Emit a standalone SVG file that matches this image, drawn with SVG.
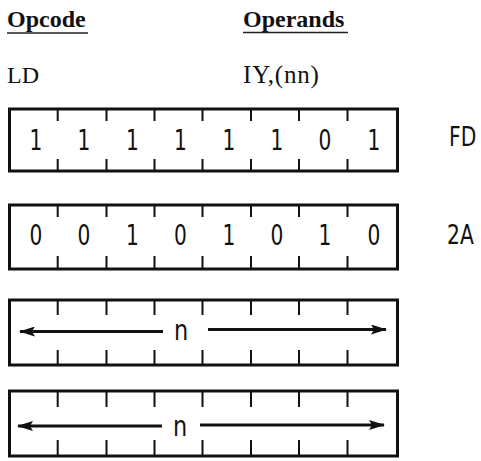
<svg xmlns="http://www.w3.org/2000/svg" width="481" height="461" viewBox="0 0 481 461">
<style>
.hdr{font-family:"Liberation Serif","Times New Roman",serif;font-size:24px;font-weight:bold;fill:#111}
.txt{font-family:"Liberation Serif","Times New Roman",serif;font-size:24px;fill:#111}
.ul{stroke:#222;stroke-width:1.6}
.box{fill:#fff;stroke:#111;stroke-width:3}
.tick{stroke:#111;stroke-width:2}
.dig{font-family:"DejaVu Sans","Liberation Sans",sans-serif;font-size:28px;fill:#111;text-anchor:middle}
.hex{font-family:"DejaVu Sans","Liberation Sans",sans-serif;font-size:26px;fill:#111}
.arr{stroke:#111;stroke-width:3;fill:none}
</style>
<defs>
<marker id="ah" viewBox="0 0 16 10" refX="15" refY="5" markerWidth="16" markerHeight="10" markerUnits="userSpaceOnUse" orient="auto-start-reverse">
<path d="M0,0 L16,5 L0,10 L3,5 Z" fill="#111"/>
</marker>
</defs>

<g id="headers">
<text class="hdr" x="7" y="27">Opcode</text>
<line class="ul" x1="7" y1="33" x2="88" y2="33"/>
<text class="hdr" x="243" y="27">Operands</text>
<line class="ul" x1="243" y1="32.5" x2="348" y2="32.5"/>
<text class="txt" x="7" y="83">LD</text>
<text class="txt" x="243" y="83" style="font-size:25px;letter-spacing:0.8px">IY,(nn)</text>
</g>

<g id="byte1">
<rect class="box" x="9.5" y="109" width="388" height="62"/>
<path class="tick" d="M57.7,109v12M106.5,109v12M154.5,109v12M202.5,109v12M251,109v12M299,109v12M347.5,109v12M57.7,171v-12M106.5,171v-12M154.5,171v-12M202.5,171v-12M251,171v-12M299,171v-12M347.5,171v-12"/>
<text class="dig" transform="translate(36,150) scale(0.72,1)">1</text>
<text class="dig" transform="translate(84,150) scale(0.72,1)">1</text>
<text class="dig" transform="translate(132.5,150) scale(0.72,1)">1</text>
<text class="dig" transform="translate(180.5,150) scale(0.72,1)">1</text>
<text class="dig" transform="translate(229,150) scale(0.72,1)">1</text>
<text class="dig" transform="translate(277,150) scale(0.72,1)">1</text>
<text class="dig" transform="translate(325,150) scale(0.72,1)">0</text>
<text class="dig" transform="translate(374,150) scale(0.72,1)">1</text>
<text class="hex" transform="translate(449,146) scale(0.78,1)">FD</text>
</g>

<g id="byte2">
<rect class="box" x="9.5" y="205" width="388" height="64"/>
<path class="tick" d="M57.7,205v12M106.5,205v12M154.5,205v12M202.5,205v12M251,205v12M299,205v12M347.5,205v12M57.7,269v-13M106.5,269v-13M154.5,269v-13M202.5,269v-13M251,269v-13M299,269v-13M347.5,269v-13"/>
<text class="dig" transform="translate(36,245) scale(0.72,1)">0</text>
<text class="dig" transform="translate(84,245) scale(0.72,1)">0</text>
<text class="dig" transform="translate(132.5,245) scale(0.72,1)">1</text>
<text class="dig" transform="translate(180.5,245) scale(0.72,1)">0</text>
<text class="dig" transform="translate(229,245) scale(0.72,1)">1</text>
<text class="dig" transform="translate(277,245) scale(0.72,1)">0</text>
<text class="dig" transform="translate(325,245) scale(0.72,1)">1</text>
<text class="dig" transform="translate(374,245) scale(0.72,1)">0</text>
<text class="hex" transform="translate(447,244) scale(0.78,1)">2A</text>
</g>

<g id="byte3">
<rect class="box" x="9.5" y="300" width="388" height="65"/>
<path class="tick" d="M57.7,300v15M106.5,300v15M154.5,300v15M202.5,300v15M251,300v15M299,300v15M347.5,300v15M57.7,365v-15M106.5,365v-15M154.5,365v-15M202.5,365v-15M251,365v-15M299,365v-15M347.5,365v-15"/>
<text class="dig" transform="translate(181,340) scale(0.8,1)">n</text>
</g>

<g id="byte4">
<rect class="box" x="9.5" y="391" width="388" height="65"/>
<path class="tick" d="M57.7,391v16M106.5,391v16M154.5,391v16M202.5,391v16M251,391v16M299,391v16M347.5,391v16M57.7,456v-16M106.5,456v-16M154.5,456v-16M202.5,456v-16M251,456v-16M299,456v-16M347.5,456v-16"/>
<text class="dig" transform="translate(180,436) scale(0.8,1)">n</text>
</g>

<g id="connectors">
<line class="arr" x1="163" y1="331.5" x2="20" y2="331.5" marker-end="url(#ah)"/>
<line class="arr" x1="208" y1="329.5" x2="386" y2="329.5" marker-end="url(#ah)"/>
<line class="arr" x1="162" y1="426" x2="18" y2="426" marker-end="url(#ah)"/>
<line class="arr" x1="200" y1="425" x2="384" y2="425" marker-end="url(#ah)"/>
</g>
</svg>
